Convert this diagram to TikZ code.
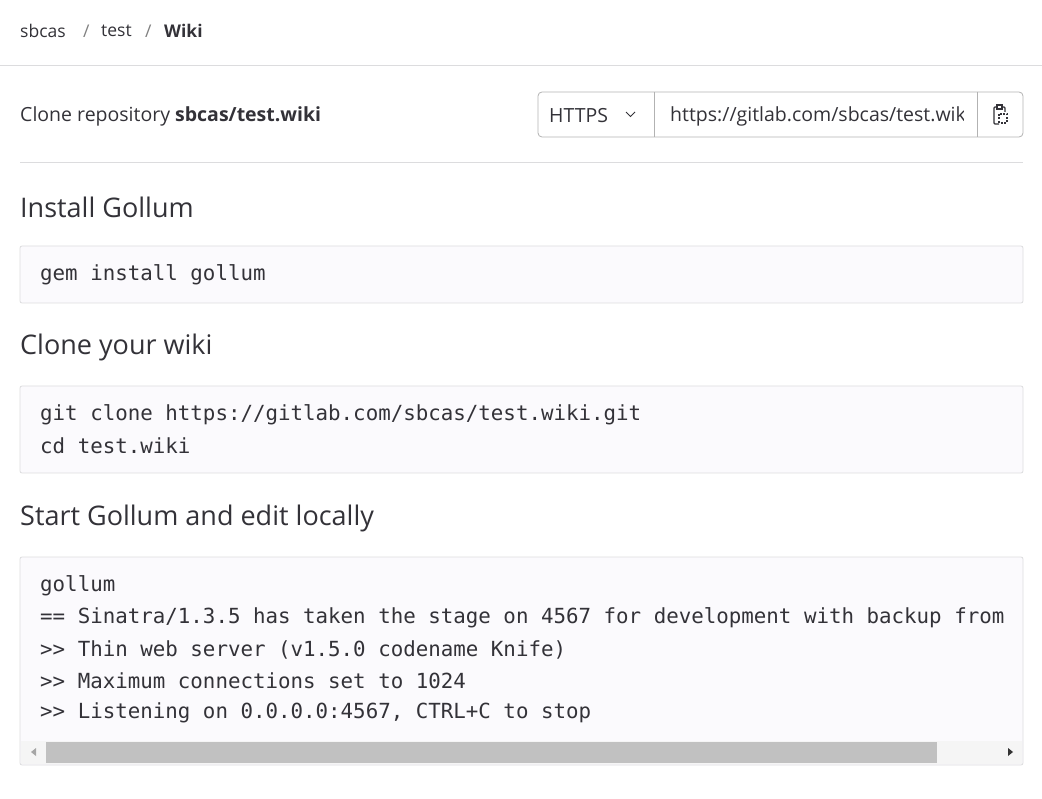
\documentclass[tikz,border=0pt]{standalone}
\usepackage{fontspec}
\setmainfont{Open Sans}
\setmonofont{DejaVu Sans Mono}
\definecolor{txt}{HTML}{333238}
\definecolor{rule}{HTML}{DCDCDE}
\definecolor{codebg}{HTML}{FBFAFD}
\definecolor{scroll}{HTML}{C1C1C1}
\begin{document}
\begin{tikzpicture}[x=1pt,y=-1pt,
  every node/.style = {inner sep=0pt, anchor=west, text=txt},
  crumb/.style = {font=\fontsize{17.5}{20}\selectfont},
  body/.style = {font=\fontsize{19.5}{22}\selectfont},
  heading/.style = {font=\fontsize{27}{30}\selectfont},
  code/.style = {font=\ttfamily\fontsize{20.8}{24}\selectfont},
  codebox/.style = {draw=rule, fill=codebg, rounded corners=2pt, line width=0.8pt}]
  \useasboundingbox (0,0) rectangle (1042,799);
  % breadcrumb
  \node[crumb] (sbcas) at (20,31) {sbcas};
  \node[crumb, text=gray] (s1) at (83,31) {/};
  \node[crumb] (test) at (101,31) {test};
  \node[crumb, text=gray] (s2) at (145,31) {/};
  \node[crumb, font=\bfseries\fontsize{17.5}{20}\selectfont] (wiki) at (164,31) {Wiki};
  \draw[rule, line width=1pt] (0,66) -- (1042,66);
  % clone bar
  \node[body] (clone) at (20,116) {Clone repository \textbf{sbcas/test.wiki}};
  \draw[draw=gray!60, rounded corners=4pt, line width=0.8pt] (538,92) rectangle (1023,137);
  \draw[gray!60, line width=0.8pt] (654,92) -- (654,137) (977,92) -- (977,137);
  \node[body] (https) at (549,116) {HTTPS};
  \draw[txt, line width=1pt] (626,112) -- (630.5,116.5) -- (635,112);
  \begin{scope}
    \clip (655,93) rectangle (963,136);
    \node[body] (url) at (670,116) {https://gitlab.com/sbcas/test.wiki.git};
  \end{scope}
  \draw[txt, line width=1.2pt, rounded corners=1pt] (996,107) -- (994,107) -- (994,124) -- (999,124)
    (1003,107) -- (1005,107) -- (1005,112);
  \draw[txt, line width=1.2pt] (997,105) rectangle (1002,109);
  \draw[txt, line width=1.2pt, dash pattern=on 2pt off 1.5pt] (999,114) rectangle (1007,123);
  \draw[rule, line width=1pt] (20,163) -- (1023,163);
  % install
  \node[heading] (h1) at (20,207) {Install Gollum};
  \draw[codebox] (20,246) rectangle (1023,303);
  \node[code] (c1) at (40,275) {gem install gollum};
  % clone
  \node[heading] (h2) at (20,347) {Clone your wiki};
  \draw[codebox] (20,386) rectangle (1023,473);
  \node[code] (c2) at (40,415) {git clone https://gitlab.com/sbcas/test.wiki.git};
  \node[code] (c3) at (40,446) {cd test.wiki};
  % start
  \node[heading] (h3) at (20,518) {Start Gollum and edit locally};
  \draw[codebox] (20,557) rectangle (1023,765);
  \node[code] (c4) at (40,586) {gollum};
  \node[code] (c5) at (40,618) {== Sinatra/1.3.5 has taken the stage on 4567 for development with backup from};
  \node[code] (c6) at (40,650) {>> Thin web server (v1.5.0 codename Knife)};
  \node[code] (c7) at (40,681) {>> Maximum connections set to 1024};
  \node[code] (c8) at (40,713) {>> Listening on 0.0.0.0:4567, CTRL+C to stop};
  % scrollbar
  \fill[gray!8] (21,741) rectangle (1022,764);
  \fill[scroll] (46,742) rectangle (937,763);
  \fill[gray!70] (36,748) -- (36,756) -- (31,752) -- cycle;
  \fill[gray!40!black] (1008,748) -- (1008,756) -- (1013,752) -- cycle;
\end{tikzpicture}
\end{document}
